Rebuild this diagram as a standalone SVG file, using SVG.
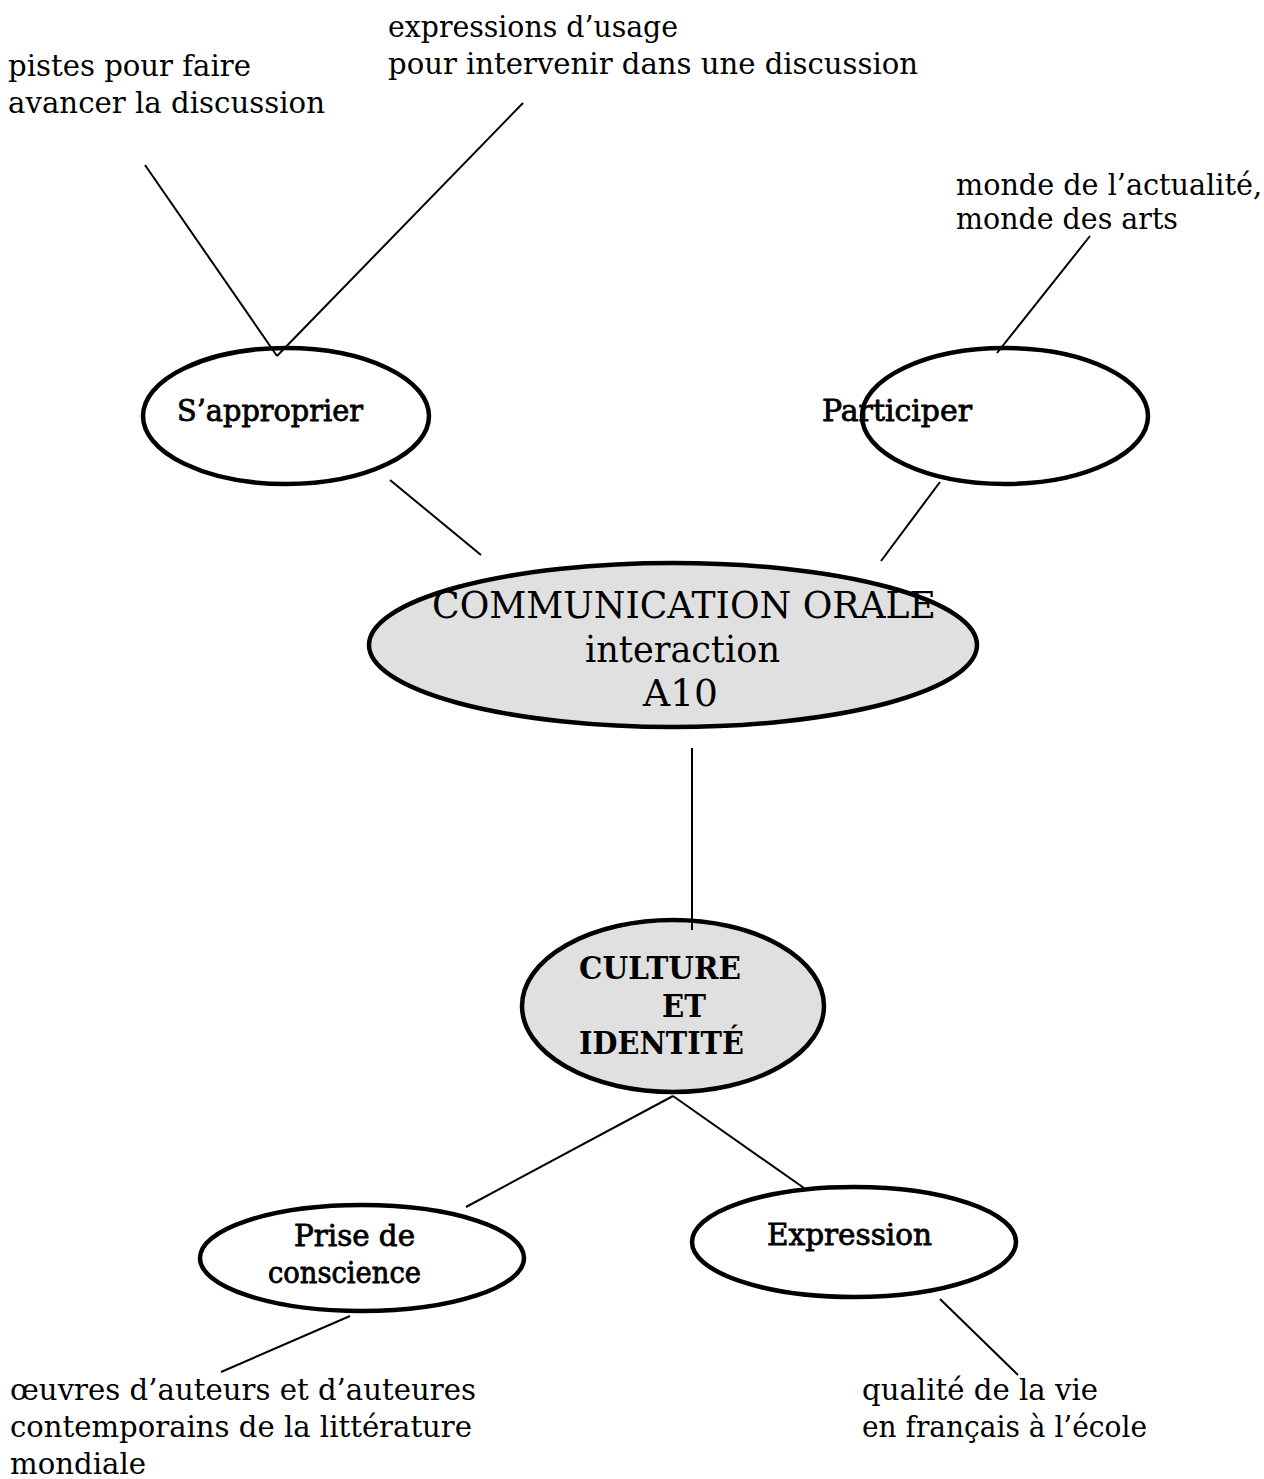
<svg xmlns="http://www.w3.org/2000/svg" width="1264" height="1479" viewBox="0 0 1264 1479">
  <style>
    .t { font-family: "DejaVu Serif", "Liberation Serif", serif; font-size: 29px; fill: #000; }
    .b { font-family: "DejaVu Serif", "Liberation Serif", serif; font-size: 29px; fill: #000; stroke: #000; stroke-width: 0.8; }
    .cb { font-family: "DejaVu Serif", "Liberation Serif", serif; font-size: 31px; font-weight: bold; fill: #000; }
    .big { font-family: "DejaVu Serif", "Liberation Serif", serif; font-size: 37px; fill: #000; }
    .node { fill: #fff; stroke: #000; stroke-width: 4.5; }
    .hub { fill: #e0e0e0; stroke: #000; stroke-width: 4.5; }
    .link { stroke: #000; stroke-width: 2; fill: none; }
  </style>
  <rect width="1264" height="1479" fill="#fff"/>

  <!-- free-standing notes -->
  <g id="note-pistes">
    <text class="t" x="8" y="76" textLength="243" lengthAdjust="spacingAndGlyphs">pistes pour faire</text>
    <text class="t" x="8" y="113" textLength="317" lengthAdjust="spacingAndGlyphs">avancer la discussion</text>
  </g>
  <g id="note-expressions">
    <text class="t" x="388" y="37" textLength="290" lengthAdjust="spacingAndGlyphs">expressions d’usage</text>
    <text class="t" x="388" y="74" textLength="530" lengthAdjust="spacingAndGlyphs">pour intervenir dans une discussion</text>
  </g>
  <g id="note-monde">
    <text class="t" x="956" y="195" textLength="306" lengthAdjust="spacingAndGlyphs">monde de l’actualité,</text>
    <text class="t" x="956" y="229" textLength="222" lengthAdjust="spacingAndGlyphs">monde des arts</text>
  </g>
  <g id="note-oeuvres">
    <text class="t" x="10" y="1400" textLength="466" lengthAdjust="spacingAndGlyphs">œuvres d’auteurs  et d’auteures</text>
    <text class="t" x="10" y="1437" textLength="462" lengthAdjust="spacingAndGlyphs">contemporains de la littérature</text>
    <text class="t" x="10" y="1474" textLength="136" lengthAdjust="spacingAndGlyphs">mondiale</text>
  </g>
  <g id="note-qualite">
    <text class="t" x="862" y="1400" textLength="236" lengthAdjust="spacingAndGlyphs">qualité de la vie</text>
    <text class="t" x="862" y="1437" textLength="285" lengthAdjust="spacingAndGlyphs">en français à l’école</text>
  </g>

  <!-- nodes -->
  <g id="node-sapproprier">
    <ellipse class="node" cx="286" cy="416" rx="143" ry="68"/>
    <text class="b" x="177" y="421" textLength="186" lengthAdjust="spacingAndGlyphs">S’approprier</text>
  </g>
  <g id="node-participer">
    <ellipse class="node" cx="1005" cy="416" rx="143" ry="68"/>
    <text class="b" x="822" y="421" textLength="150" lengthAdjust="spacingAndGlyphs">Participer</text>
  </g>
  <g id="node-communication">
    <ellipse class="hub" cx="673" cy="645" rx="304" ry="82"/>
    <text class="big" x="432" y="618" textLength="504" lengthAdjust="spacingAndGlyphs">COMMUNICATION ORALE</text>
    <text class="big" x="585" y="662" textLength="195" lengthAdjust="spacingAndGlyphs">interaction</text>
    <text class="big" x="643" y="706" textLength="75" lengthAdjust="spacingAndGlyphs">A10</text>
  </g>
  <g id="node-culture">
    <ellipse class="hub" cx="673" cy="1006" rx="151" ry="86"/>
    <text class="cb" x="579" y="979" textLength="162" lengthAdjust="spacingAndGlyphs">CULTURE</text>
    <text class="cb" x="662" y="1017" textLength="44" lengthAdjust="spacingAndGlyphs">ET</text>
    <text class="cb" x="579" y="1054" textLength="165" lengthAdjust="spacingAndGlyphs">IDENTITÉ</text>
  </g>
  <g id="node-prise">
    <ellipse class="node" cx="362" cy="1258" rx="162" ry="53"/>
    <text class="b" x="294" y="1246" textLength="121" lengthAdjust="spacingAndGlyphs">Prise de</text>
    <text class="b" x="268" y="1283" textLength="153" lengthAdjust="spacingAndGlyphs">conscience</text>
  </g>
  <g id="node-expression">
    <ellipse class="node" cx="854" cy="1242" rx="162" ry="55"/>
    <text class="b" x="767" y="1245" textLength="165" lengthAdjust="spacingAndGlyphs">Expression</text>
  </g>

  <!-- connectors, drawn over the node outlines -->
  <g id="connectors">
    <line class="link" x1="145" y1="165" x2="277" y2="356"/>
    <line class="link" x1="523" y1="103" x2="277" y2="356"/>
    <line class="link" x1="1090" y1="236" x2="997" y2="353"/>
    <line class="link" x1="390" y1="480" x2="481" y2="555"/>
    <line class="link" x1="940" y1="482" x2="881" y2="561"/>
    <line class="link" x1="692" y1="748" x2="692" y2="930"/>
    <line class="link" x1="673" y1="1096" x2="466" y2="1207"/>
    <line class="link" x1="673" y1="1096" x2="804" y2="1188"/>
    <line class="link" x1="350" y1="1316" x2="221" y2="1372"/>
    <line class="link" x1="940" y1="1299" x2="1018" y2="1375"/>
  </g>
</svg>
